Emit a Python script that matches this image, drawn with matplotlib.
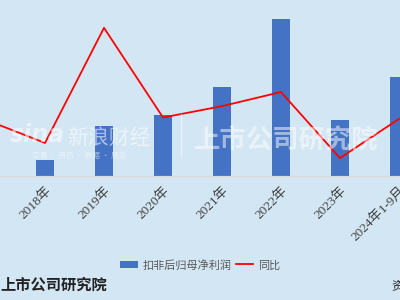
import matplotlib.pyplot as plt
import numpy as np

plt.rcParams['font.family'] = ['Liberation Serif', 'Noto Sans CJK SC', 'DejaVu Sans']

# data
years = ["2017年", "2018年", "2019年", "2020年", "2021年", "2022年", "2023年", "2024年1-9月"]
profit = [None, 0.8, 2.5, 3.05, 4.45, 7.85, 2.8, 4.95]   # 扣非后归母净利润 (亿元)
yoy = [17, -32, 212, 22, 46, 76, -64, 19]                 # 同比 (%)

bg = "#d3e6f4"
fig = plt.figure(figsize=(4, 3), dpi=100, facecolor=bg)
ax = fig.add_axes([0, 1 - 176 / 300, 1, 176 / 300])
ax.set_facecolor(bg)

x = np.arange(len(years)) - 1
bx = [xi for xi, v in zip(x, profit) if v is not None]
bv = [v for v in profit if v is not None]
bars = ax.bar(bx, bv, width=0.31, color="#4472c4", label="扣非后归母净利润", zorder=2)
ax.set_ylim(0, 8.8)

ax2 = ax.twinx()
line, = ax2.plot(x, yoy, color="#ff0000", lw=1.3, label="同比", zorder=3)
ax2.set_ylim(-102, 271)

for a in (ax, ax2):
    for s in ("top", "left", "right"):
        a.spines[s].set_visible(False)
    a.spines["bottom"].set_color("#d9d9d9")
    a.set_yticks([])
ax.set_xticks(x)
ax.set_xticklabels(years, rotation=45, ha="right", rotation_mode="anchor", fontsize=9.5, color="#404040",
                   family=['Liberation Serif', 'Noto Sans CJK SC'])
ax.tick_params(axis="x", length=0, pad=6)
ax.set_xlim(-0.763, 6.017)

# watermarks
fig.text(0.025, 0.525, "sina", fontsize=17, color="white", alpha=0.55, fontweight="bold", style="italic", family="DejaVu Sans")
fig.text(0.168, 0.52, "新浪财经", fontsize=15, color="white", alpha=0.55, family=["Noto Sans CJK SC"])
fig.text(0.08, 0.475, "交易 · 资讯 · 数据 · 服务", fontsize=5.5, color="white", alpha=0.5, family=["Noto Sans CJK SC"])
fig.add_artist(plt.Line2D([0.453, 0.453], [0.48, 0.62], color="white", alpha=0.5, lw=1))
fig.text(0.485, 0.505, "上市公司研究院", fontsize=19, color="white", alpha=0.5, fontweight="bold", style="italic", family=["Noto Sans CJK SC"])

fig.legend([bars, line], ["扣非后归母净利润", "同比"], loc="center", bbox_to_anchor=(0.5, 0.117),
           ncol=2, frameon=False, handlelength=1.6, columnspacing=0.4, handletextpad=0.4,
           prop={'family': ['Noto Sans CJK SC'], 'size': 8}, labelcolor="#595959")

fig.text(0.0, 0.035, "上市公司研究院", fontsize=11, color="#222222", fontweight="bold", style="italic", family=["Noto Sans CJK SC"])
fig.text(0.978, 0.035, "资", fontsize=9, color="#222222", family=["Noto Sans CJK SC"])

fig.savefig("out.png", dpi=100, facecolor=bg)
